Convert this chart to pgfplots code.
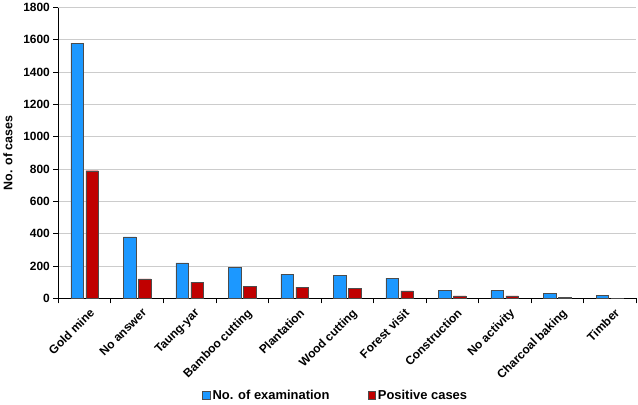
\documentclass[border=0pt]{standalone}
\usepackage{pgfplots}
\pgfplotsset{compat=1.18}
\usepackage{fontspec}
\setmainfont{Liberation Sans}
\definecolor{exam}{RGB}{28,152,255}
\definecolor{pos}{RGB}{192,0,0}
\begin{document}
\begin{tikzpicture}[x=1bp,y=1bp]
\begin{axis}[
    name=ax,
    scale only axis,
    width=578bp, height=291bp,
    ybar, bar width=12.5bp,
    xmin=-0.5, xmax=10.5,
    ymin=0, ymax=1800,
    ytick={0,200,...,1800},
    xtick={0,...,10},
    xticklabels={Gold mine,No answer,Taung-yar,Bamboo cutting,Plantation,Wood cutting,Forest visit,Construction,No activity,Charcoal baking,Timber},
    x tick label style={rotate=45, anchor=north east, font=\fontsize{12}{13}\selectfont\bfseries, inner sep=0bp, xshift=0bp, yshift=-6bp},
    major x tick style={draw=none},
    minor xtick={-0.5,0.5,...,10.5},
    minor x tick style={black, thick},
    minor tick length=5bp,
    y tick label style={font=\fontsize{12}{13}\selectfont\bfseries},
    /pgf/number format/assume math mode=true,
    /pgf/number format/1000 sep={},
    major y tick style={black, thick},
    major tick length=5bp,
    tick align=outside,
    axis x line*=bottom, axis y line*=left,
    axis line style={black, thick, -},
    ymajorgrids, grid style={gray!40, thick},
    ylabel={\bfseries No. of cases},
    ylabel style={font=\fontsize{12.5}{14}\selectfont, yshift=4bp},
    legend style={at={(0.48,-0.333)}, anchor=center, draw=none, legend columns=2,
        font=\fontsize{13}{15}\selectfont\bfseries,
        /tikz/every even column/.append style={column sep=36bp}},
    legend image code/.code={\draw[#1] (0bp,-4.5bp) rectangle (8bp,4.5bp);},
]
\addplot[fill=exam, draw=black!70, bar shift=-7.5bp] coordinates {
(0,1580) (1,380) (2,220) (3,190) (4,150) (5,142) (6,125) (7,48) (8,48) (9,31) (10,17)};
\addplot[fill=pos, draw=black!70, bar shift=7.5bp] coordinates {
(0,790) (1,120) (2,100) (3,75) (4,70) (5,60) (6,46) (7,15) (8,15) (9,6) (10,2)};
\legend{No. of examination, Positive cases}
\end{axis}
\path (ax.south west) ++(-58bp,-106bp);
\path (ax.north east) ++(2bp,6bp);
\end{tikzpicture}
\end{document}
